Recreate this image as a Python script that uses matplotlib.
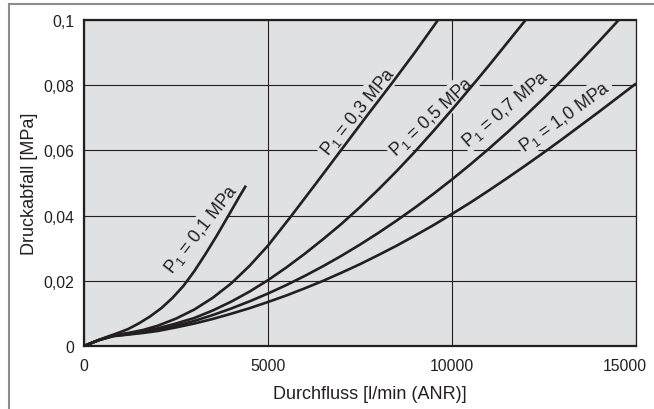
import matplotlib
matplotlib.use("Agg")
import matplotlib.pyplot as plt
from matplotlib.lines import Line2D
from matplotlib.transforms import ScaledTranslation

plt.rcParams['font.family'] = ['Liberation Sans', 'DejaVu Sans']
plt.rcParams['mathtext.default'] = 'regular'

# Druckabfall-Kennlinien (y in MPa)
x_01 = [0, 300, 600, 900, 1200, 1500, 1800, 2100, 2400, 2700, 3000, 3300, 3600,
        3900, 4200, 4400]
y_01 = [0, 0.0014, 0.0027, 0.0039, 0.0052, 0.0070, 0.0091, 0.0116, 0.0147, 0.0184,
        0.0230, 0.0282, 0.0337, 0.0395, 0.0454, 0.0492]

x_03 = [0, 400, 800, 1200, 1600, 2000, 2500, 3000, 3500, 4000, 4500, 5000, 5640,
        6300, 6980, 7700, 8380, 9000, 9620]
y_03 = [0, 0.0018, 0.0033, 0.0040, 0.0049, 0.0062, 0.0084, 0.0112, 0.0148, 0.0192,
        0.0246, 0.0308, 0.0400, 0.0498, 0.0600, 0.0708, 0.0808, 0.0902, 0.1000]

x_05 = [0, 400, 800, 1200, 1600, 2000, 2500, 3000, 3500, 4000, 4500, 5000, 5500,
        6000, 6500, 7000, 7500, 8000, 8500, 9000, 9500, 10000, 10500, 11000, 11500,
        12000]
y_05 = [0, 0.0018, 0.0032, 0.0038, 0.0045, 0.0054, 0.0069, 0.0086, 0.0109, 0.0136,
        0.0167, 0.0202, 0.0241, 0.0283, 0.0328, 0.0375, 0.0426, 0.0480, 0.0537,
        0.0597, 0.0660, 0.0725, 0.0792, 0.0860, 0.0930, 0.1000]

x_07 = [0, 400, 800, 1200, 1600, 2000, 2500, 3000, 3500, 4000, 4500, 5000, 5500,
        6000, 6500, 7000, 7500, 8000, 8500, 9000, 9500, 10000, 10500, 11000, 11500,
        12000, 12500, 13000, 13500, 14000, 14530]
y_07 = [0, 0.0018, 0.0031, 0.0036, 0.0042, 0.0049, 0.0062, 0.0077, 0.0095, 0.0115,
        0.0137, 0.0161, 0.0187, 0.0215, 0.0245, 0.0277, 0.0311, 0.0347, 0.0385,
        0.0425, 0.0467, 0.0511, 0.0557, 0.0605, 0.0655, 0.0707, 0.0761, 0.0817,
        0.0875, 0.0935, 0.1000]

x_10 = [0, 400, 800, 1200, 1600, 2000, 2500, 3000, 3500, 4000, 4500, 5000, 5500,
        6000, 6500, 7000, 7500, 8000, 8500, 9000, 9500, 10000, 10500, 11000, 11500,
        12000, 12500, 13000, 13500, 14000, 14500, 15000]
y_10 = [0, 0.0018, 0.0030, 0.0035, 0.0040, 0.0046, 0.0057, 0.0069, 0.0083, 0.0099,
        0.0116, 0.0135, 0.0155, 0.0177, 0.0200, 0.0225, 0.0251, 0.0279, 0.0308,
        0.0339, 0.0371, 0.0405, 0.0440, 0.0477, 0.0515, 0.0554, 0.0594, 0.0635,
        0.0677, 0.0719, 0.0762, 0.0805]

labels = ['0,1', '0,3', '0,5', '0,7', '1,0']
label_x = [3200, 7450, 9450, 11440, 13070]
label_y = [0.0360, 0.0720, 0.0705, 0.0730, 0.0705]
label_rot = [52, 51, 43, 40.5, 36]

x_ticks = [0, 5000, 10000, 15000]
x_ticklabels = ['0', '5000', '10000', '15000']
y_ticks = [0, 0.02, 0.04, 0.06, 0.08, 0.1]
y_ticklabels = ['0', '0,02', '0,04', '0,06', '0,08', '0,1']

bg = '#e0e1e3'
ink = '#231f20'

fig = plt.figure(figsize=(6.54, 4.10), dpi=100)
ax = fig.add_axes([84 / 654, 1 - 347 / 410, 552 / 654, 326 / 410])
ax.set_facecolor(bg)

for xs, ys in [(x_01, y_01), (x_03, y_03), (x_05, y_05), (x_07, y_07), (x_10, y_10)]:
    ax.plot(xs, ys, color=ink, lw=1.9, zorder=4, solid_capstyle='butt',
            solid_joinstyle='round')

for lab, lx, ly, rot in zip(labels, label_x, label_y, label_rot):
    ax.text(lx, ly, 'P$_{1}$ = ' + lab + ' MPa', rotation=rot, rotation_mode='anchor',
            ha='center', va='center', fontsize=12.8, color=ink, zorder=3,
            bbox=dict(facecolor=bg, edgecolor='none', pad=1.5))

ax.set_xlim(0, 15000)
ax.set_ylim(0, 0.1)
ax.set_xticks(x_ticks)
ax.set_xticklabels(x_ticklabels)
ax.set_yticks(y_ticks)
ax.set_yticklabels(y_ticklabels)
ax.tick_params(length=0, labelsize=11.3, colors=ink)
ax.tick_params(axis='x', pad=9)
ax.tick_params(axis='y', pad=7)
ax.grid(True, color=ink, lw=0.8, zorder=1)
ax.set_axisbelow(True)

# letzte x-Beschriftung wie im Original nach links geschoben
last = ax.get_xticklabels()[-1]
last.set_transform(last.get_transform() + ScaledTranslation(-0.11, 0, fig.dpi_scale_trans))

for side in ['left', 'bottom', 'top']:
    ax.spines[side].set_linewidth(1.6)
    ax.spines[side].set_color(ink)
ax.spines['right'].set_linewidth(0.9)
ax.spines['right'].set_color(ink)

ax.set_xlabel('Durchfluss [l/min (ANR)]', fontsize=13, color=ink)
ax.xaxis.set_label_coords((370 - 84) / 552, (347 - 395) / 326)
ax.xaxis.label.set_va('center')
ax.set_ylabel('Druckabfall [MPa]', fontsize=13, color=ink)
ax.yaxis.set_label_coords((29 - 84) / 552, 0.5)
ax.yaxis.label.set_va('center')

# grauer Rahmen oben und links
fig.add_artist(Line2D([9 / 654, 1], [1 - 5 / 410, 1 - 5 / 410], transform=fig.transFigure,
                      color='#8c8c8c', lw=1.5))
fig.add_artist(Line2D([9 / 654, 9 / 654], [0, 1 - 5 / 410], transform=fig.transFigure,
                      color='#8c8c8c', lw=1.5))

fig.savefig('out.png', dpi=100)
